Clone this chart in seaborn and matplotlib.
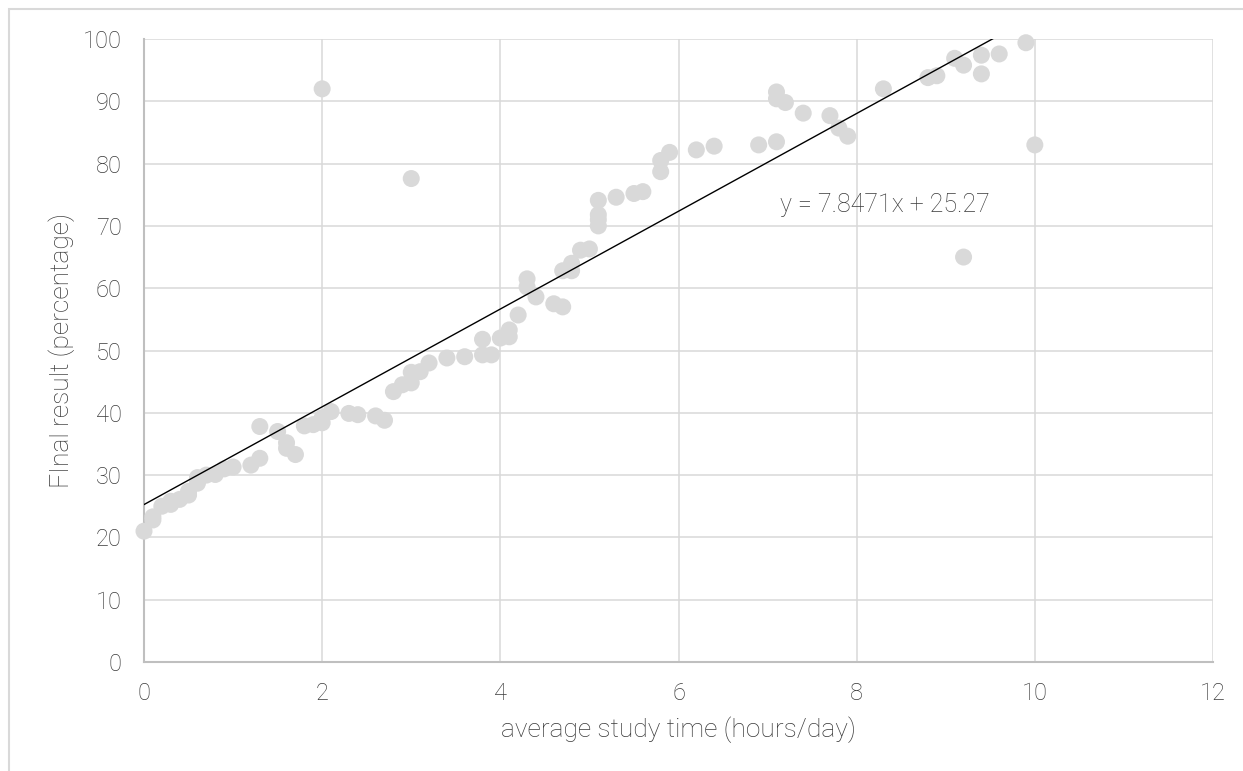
import matplotlib
matplotlib.use("Agg")
import matplotlib.pyplot as plt
import numpy as np
import seaborn as sns
from matplotlib.patches import Rectangle

# Heures d'étude moyennes et résultat final
study_hours = [
    0.0, 0.1, 0.1, 0.2, 0.3, 0.3, 0.4, 0.5, 0.5, 0.6, 0.6, 0.7, 0.8, 0.9, 1.0,
    1.2, 1.3, 1.3, 1.5, 1.6, 1.6, 1.7, 1.8, 1.9, 2.0, 2.0, 2.1, 2.0,
    2.3, 2.4, 2.6, 2.7, 2.8, 2.9, 3.0, 3.0, 3.1, 3.2, 3.0, 3.4, 3.6,
    3.8, 3.8, 3.9, 4.0, 4.1, 4.1, 4.2, 4.3, 4.3, 4.4, 4.6, 4.7, 4.7, 4.8, 4.8,
    4.9, 5.0, 5.1, 5.1, 5.1, 5.1, 5.3, 5.5, 5.6, 5.8, 5.8, 5.9,
    6.2, 6.4, 6.9, 7.1, 7.1, 7.1, 7.2, 7.4, 7.7, 7.8, 7.9, 8.3,
    8.8, 8.9, 9.1, 9.2, 9.2, 9.4, 9.4, 9.6, 9.9, 10.0,
]
final_result = [
    21.0, 22.8, 23.3, 25.0, 25.3, 25.8, 26.1, 26.8, 27.4, 28.7, 29.6, 30.0, 30.1, 31.0, 31.3,
    31.6, 32.7, 37.8, 37.0, 35.2, 34.3, 33.3, 37.9, 38.1, 38.4, 39.2, 40.2, 92.0,
    39.9, 39.7, 39.5, 38.8, 43.4, 44.5, 44.8, 46.5, 46.6, 48.0, 77.6, 48.8, 49.0,
    49.3, 51.8, 49.3, 52.0, 52.2, 53.3, 55.7, 60.2, 61.5, 58.6, 57.5, 57.0, 62.8, 62.8, 64.0,
    66.1, 66.3, 70.0, 71.0, 71.8, 74.1, 74.6, 75.2, 75.5, 78.7, 80.5, 81.8,
    82.2, 82.8, 83.0, 83.5, 91.5, 90.4, 89.8, 88.1, 87.7, 85.7, 84.4, 92.0,
    93.8, 94.1, 96.9, 95.8, 65.0, 97.4, 94.4, 97.6, 99.4, 83.0,
]

# Courbe de tendance d'Excel
slope = 7.8471
intercept = 25.27
equation = "y = 7.8471x + 25.27"

x_ticks = [0, 2, 4, 6, 8, 10, 12]
y_ticks = [0, 10, 20, 30, 40, 50, 60, 70, 80, 90, 100]

sns.set_style("white")
plt.rcParams["font.family"] = ["Roboto", "DejaVu Sans"]
plt.rcParams["font.weight"] = "light"
plt.rcParams["axes.labelweight"] = "light"

text_color = "#3A3A3A"

fig = plt.figure(figsize=(12.43, 7.71), dpi=100)
ax = fig.add_axes([144 / 1243, 109 / 771, 1069 / 1243, 623 / 771])

sns.scatterplot(x=study_hours, y=final_result, ax=ax, color="#D9D9D9",
                s=150, edgecolor="none", zorder=3, clip_on=False)

fit_x = np.linspace(0, 10, 200)
sns.lineplot(x=fit_x, y=slope * fit_x + intercept, ax=ax, color="black",
             linewidth=1.0, zorder=4)

ax.set_xlim(0, 12)
ax.set_ylim(0, 100)
ax.set_xticks(x_ticks)
ax.set_yticks(y_ticks)
ax.grid(True, color="#D9D9D9", linewidth=1.1, zorder=0)
ax.set_axisbelow(True)

for side in ["top", "right"]:
    ax.spines[side].set_visible(False)
for side in ["left", "bottom"]:
    ax.spines[side].set_color("#BFBFBF")
    ax.spines[side].set_linewidth(1.5)

ax.tick_params(axis="both", length=0, labelsize=17, labelcolor=text_color)
ax.tick_params(axis="y", pad=16)
ax.tick_params(axis="x", pad=14.5)

ax.set_xlabel("average study time (hours/day)", fontsize=19, color=text_color, labelpad=8)
ax.set_ylabel("FInal result (percentage)", fontsize=19, color=text_color, labelpad=5.5)

ax.text(8.32, 73.4, equation, fontsize=18, color=text_color, ha="center", va="center")

# Bordure de la zone du graphique
fig.patches.append(Rectangle((9 / 1243, -0.05), 1.2, 1.05 - 9 / 771, transform=fig.transFigure,
                             fill=False, edgecolor="#D9D9D9", linewidth=1.5))

fig.savefig("out.png", dpi=100)
